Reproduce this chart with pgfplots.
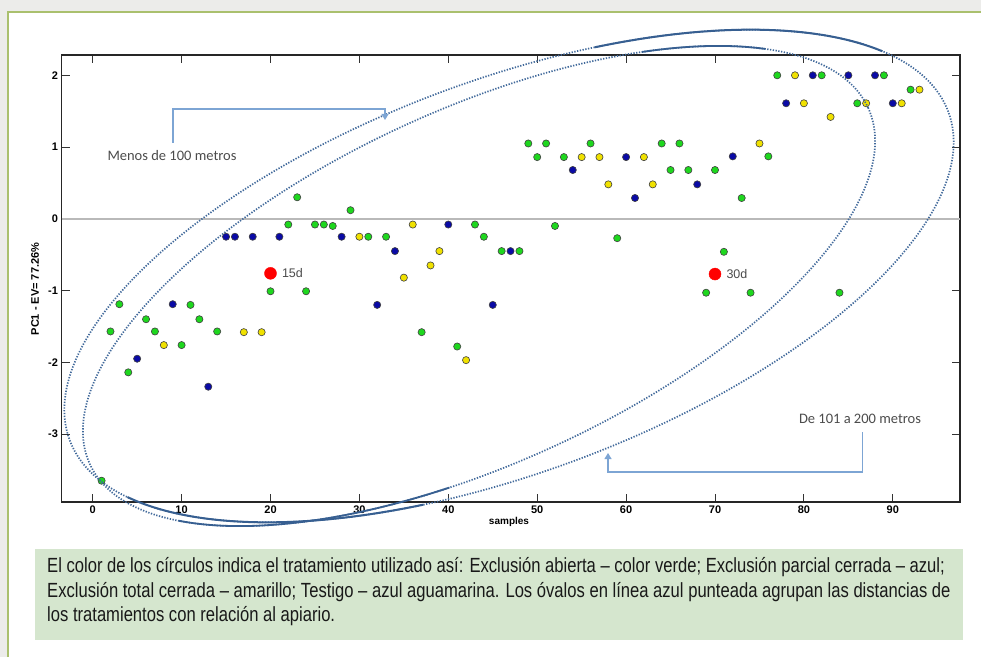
\documentclass[border=0pt]{standalone}
\usepackage{pgfplots}
\pgfplotsset{compat=1.18}
\usepackage{fontspec}
\setmainfont{Liberation Sans}
\newfontfamily\capfont{Liberation Sans}[FakeStretch=0.81]
\newfontfamily\calfont{Carlito}
\usetikzlibrary{arrows.meta}
\definecolor{bggray}{RGB}{236,236,234}
\definecolor{bordergreen}{RGB}{170,192,110}
\definecolor{capbg}{RGB}{213,230,206}
\definecolor{pgreen}{RGB}{30,215,30}
\definecolor{pblue}{RGB}{10,10,165}
\definecolor{pyellow}{RGB}{240,225,0}
\definecolor{ellcol}{RGB}{65,105,155}
\definecolor{ellsolid}{RGB}{55,95,145}
\definecolor{conncol}{RGB}{125,165,212}
\begin{document}
\begin{tikzpicture}[x=1pt,y=1pt]
\useasboundingbox (0,0) rectangle (981,657);
\fill[bggray] (0,0) rectangle (981,657);
\fill[white] (8,0) rectangle (981,645);
\draw[bordergreen, line width=1.2pt] (8,0) -- (8,645) -- (981,645);
\begin{axis}[at={(61.5pt,155pt)}, anchor=south west,
  width=898.5pt, height=447pt, scale only axis,
  xmin=-3.51, xmax=97.56, ymin=-3.947, ymax=2.283,
  xtick={0,10,20,30,40,50,60,70,80,90},
  xticklabels={0,10,20,30,40,50,60,70,80,90},
  ytick={-3,-2,-1,0,1,2},
  yticklabels={-3,-2,-1,0,1,2},
  tick align=inside, major tick length=8pt,
  tick style={black!80, line width=0.9pt},
  axis line style={black!85, line width=1.3pt},
  ticklabel style={font=\fontsize{11}{12}\selectfont\bfseries},
  clip=false]
\addplot[gray!55, line width=1.5pt, forget plot] coordinates {(-3.51,0) (97.56,0)};
% Exclusion abierta - verde
\addplot[only marks, mark=*, mark size=3.6pt, mark options={fill=pgreen, draw=black!75, line width=0.6pt}] coordinates {
(1,-3.65) (2,-1.57) (3,-1.19) (4,-2.14) (6,-1.40) (7,-1.57) (10,-1.76) (11,-1.20) (12,-1.40) (14,-1.57)
(20,-1.01) (22,-0.08) (23,0.30) (24,-1.01) (25,-0.08) (26,-0.08) (27,-0.10) (29,0.12) (31,-0.25) (33,-0.25)
(37,-1.58) (41,-1.78) (43,-0.08) (44,-0.25) (46,-0.45) (48,-0.45) (49,1.05) (50,0.86) (51,1.05) (52,-0.10)
(53,0.86) (56,1.05) (59,-0.27) (64,1.05) (65,0.68) (66,1.05) (67,0.68) (69,-1.03) (70,0.68) (71,-0.46)
(73,0.29) (74,-1.03) (76,0.87) (77,2.00) (82,2.00) (84,-1.03) (86,1.61) (89,2.00) (92,1.80)};
% Exclusion parcial cerrada - azul
\addplot[only marks, mark=*, mark size=3.6pt, mark options={fill=pblue, draw=black!75, line width=0.6pt}] coordinates {
(5,-1.95) (9,-1.19) (13,-2.34) (15,-0.25) (16,-0.25) (18,-0.25) (21,-0.25) (28,-0.25) (32,-1.20) (34,-0.45)
(40,-0.08) (45,-1.20) (47,-0.45) (54,0.68) (60,0.86) (61,0.29) (68,0.48) (72,0.87) (78,1.61) (81,2.00)
(85,2.00) (88,2.00) (90,1.61)};
% Exclusion total cerrada - amarillo
\addplot[only marks, mark=*, mark size=3.6pt, mark options={fill=pyellow, draw=black!75, line width=0.6pt}] coordinates {
(8,-1.76) (17,-1.58) (19,-1.58) (30,-0.25) (35,-0.82) (36,-0.08) (38,-0.65) (39,-0.45) (42,-1.97) (55,0.86)
(57,0.86) (58,0.48) (62,0.86) (63,0.48) (75,1.05) (79,2.00) (80,1.61) (83,1.42) (87,1.61) (91,1.61) (93,1.80)};
% centroides
\addplot[only marks, mark=*, mark size=6pt, mark options={fill=red, draw=red}] coordinates {(20,-0.76) (70,-0.77)};
\node[anchor=west, xshift=8pt, font=\fontsize{12.5}{14}\selectfont, text=black!70] at (axis cs:20,-0.76) {15d};
\node[anchor=west, xshift=8pt, font=\fontsize{12.5}{14}\selectfont, text=black!70] at (axis cs:70,-0.77) {30d};
\end{axis}
% axis labels
\node[rotate=90, font=\fontsize{11}{12}\selectfont\bfseries] at (35,368) {PC1 - EV= 77.26\%};
\node[font=\fontsize{10}{12}\selectfont\bfseries] at (509,135) {samples};
% ellipses (dotted)
\draw[ellcol, line width=1.7pt, dash pattern=on 1.3pt off 1.5pt, rotate around={20.5:(509,381)}] (509,381) ellipse [x radius=469pt, y radius=196pt];
\draw[ellcol, line width=1.7pt, dash pattern=on 1.3pt off 1.5pt, rotate around={24.6:(479,371)}] (479,371) ellipse [x radius=428pt, y radius=177pt];
% denser (solid-looking) stretches of the ovals
\draw[ellsolid, line width=2pt, rotate around={20.5:(509,381)}] (509,381) ++(24:469pt and 196pt) arc[start angle=24, end angle=70, x radius=469pt, y radius=196pt];
\draw[ellsolid, line width=2pt, rotate around={20.5:(509,381)}] (509,381) ++(202:469pt and 196pt) arc[start angle=202, end angle=250, x radius=469pt, y radius=196pt];
\draw[ellsolid, line width=1.8pt, rotate around={24.6:(479,371)}] (479,371) ++(33:428pt and 177pt) arc[start angle=33, end angle=55, x radius=428pt, y radius=177pt];
\draw[ellsolid, line width=1.8pt, rotate around={24.6:(479,371)}] (479,371) ++(210:428pt and 177pt) arc[start angle=210, end angle=255, x radius=428pt, y radius=177pt];
% annotations
\node[font=\calfont\fontsize{14.5}{16}\selectfont, text=black!70] at (172,501) {Menos de 100 metros};
\draw[conncol, line width=1.1pt, -{Triangle[width=7pt,length=6pt]}] (173,514) -- (173,548) -- (385,548) -- (385,537);
\node[font=\calfont\fontsize{14.5}{16}\selectfont, text=black!70] at (860,238) {De 101 a 200 metros};
\draw[conncol, line width=1.1pt, -{Triangle[width=7pt,length=6pt]}] (862.7,225) -- (862.7,185) -- (608,185) -- (608,204);
% caption
\fill[capbg] (35,17) rectangle (963,108);
\node[anchor=base west, inner sep=0pt, font=\capfont\fontsize{20.5}{22}\selectfont, text=black!90] at (47,85) {El color de los círculos indica el tratamiento utilizado así: Exclusión abierta – color verde; Exclusión parcial cerrada – azul;};
\node[anchor=base west, inner sep=0pt, font=\capfont\fontsize{20.5}{22}\selectfont, text=black!90] at (47,60) {Exclusión total cerrada – amarillo; Testigo – azul aguamarina. Los óvalos en línea azul punteada agrupan las distancias de};
\node[anchor=base west, inner sep=0pt, font=\capfont\fontsize{20.5}{22}\selectfont, text=black!90] at (47,36) {los tratamientos con relación al apiario.};
\end{tikzpicture}
\end{document}
